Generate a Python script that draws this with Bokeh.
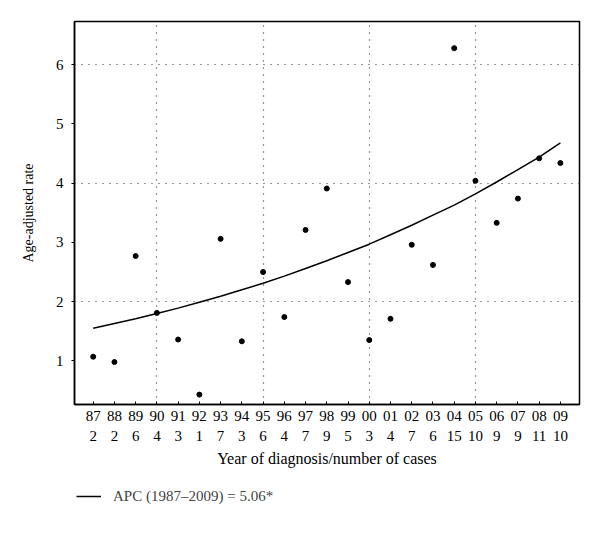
from bokeh.plotting import figure
from bokeh.layouts import column
from bokeh.models import FixedTicker, LinearAxis, Legend, LegendItem, Range1d
from bokeh.embed import file_html
from bokeh.resources import INLINE

years = list(range(1987, 2010))
year_labels = ["87", "88", "89", "90", "91", "92", "93", "94", "95", "96", "97", "98",
               "99", "00", "01", "02", "03", "04", "05", "06", "07", "08", "09"]
cases = ["2", "2", "6", "4", "3", "1", "7", "3", "6", "4", "7", "9",
         "5", "3", "4", "7", "6", "15", "10", "9", "9", "11", "10"]
rates = [1.07, 0.98, 2.77, 1.81, 1.36, 0.43, 3.06, 1.33, 2.50, 1.74, 3.21, 3.91,
         2.33, 1.35, 1.71, 2.96, 2.62, 6.28, 4.04, 3.33, 3.74, 4.42, 4.34]
fitted = [1.55, 1.63, 1.71, 1.80, 1.89, 1.99, 2.09, 2.20, 2.31, 2.43, 2.56, 2.69,
          2.83, 2.97, 3.13, 3.29, 3.46, 3.63, 3.82, 4.02, 4.23, 4.44, 4.68]
y_ticks = [1, 2, 3, 4, 5, 6]
grid_x = [1990, 1995, 2000, 2005]
grid_y = [2, 4, 6]
legend_text = "APC (1987\u20132009) = 5.06*"
x_title = "Year of diagnosis/number of cases"
y_title = "Age-adjusted rate"

FONT = "Liberation Serif"
FS = "15px"

p = figure(width=584, height=475, output_backend="svg", toolbar_location=None,
           x_range=Range1d(1986.12, 2009.9), y_range=Range1d(0.263, 6.73),
           min_border_left=74, min_border_right=5, min_border_top=21,
           min_border_bottom=71)
p.background_fill_color = "white"
p.border_fill_color = "white"
p.outline_line_color = "black"
p.outline_line_width = 1.5

# grids
p.xgrid.ticker = FixedTicker(ticks=grid_x)
p.ygrid.ticker = FixedTicker(ticks=grid_y)
for g in (p.xgrid, p.ygrid):
    g.grid_line_color = "#333333"
    g.grid_line_dash = "1 6"
    g.grid_line_width = 1.2

# x axis 1: years
xa = p.xaxis[0]
xa.ticker = FixedTicker(ticks=years)
xa.major_label_overrides = {y: l for y, l in zip(years, year_labels)}
xa.major_tick_in = 3
xa.major_tick_out = 0
xa.minor_tick_line_color = None
xa.axis_line_width = 1.5
xa.major_label_standoff = 6
xa.major_label_text_font = FONT
xa.major_label_text_font_size = FS
xa.major_label_text_color = "black"

# x axis 2: number of cases
xa2 = LinearAxis(ticker=FixedTicker(ticks=years))
xa2.major_label_overrides = {y: c for y, c in zip(years, cases)}
xa2.axis_line_color = None
xa2.major_tick_line_color = None
xa2.minor_tick_line_color = None
xa2.major_tick_in = 0
xa2.major_tick_out = 0
xa2.major_label_standoff = 7
xa2.major_label_text_font = FONT
xa2.major_label_text_font_size = FS
xa2.major_label_text_color = "black"
xa2.axis_label = x_title
xa2.axis_label_standoff = 6
xa2.axis_label_text_font = FONT
xa2.axis_label_text_font_size = "16px"
xa2.axis_label_text_font_style = "normal"
xa2.axis_label_text_color = "black"
p.add_layout(xa2, "below")

# y axis
ya = p.yaxis[0]
ya.ticker = FixedTicker(ticks=y_ticks)
ya.major_tick_in = 0
ya.major_tick_out = 3
ya.minor_tick_line_color = None
ya.axis_line_width = 1.5
ya.major_label_standoff = 8
ya.major_label_text_font = FONT
ya.major_label_text_font_size = FS
ya.major_label_text_color = "black"
ya.axis_label = y_title
ya.axis_label_standoff = 17
ya.axis_label_text_font = FONT
ya.axis_label_text_font_size = "14px"
ya.axis_label_text_font_style = "normal"
ya.axis_label_text_color = "black"

line = p.line(years, fitted, line_color="black", line_width=1.5)
p.scatter(years, rates, size=5, fill_color="black", line_color="black")

# legend strip below the chart (its line lies outside this strip's view)
p2 = figure(width=584, height=44, output_backend="svg", toolbar_location=None,
            x_range=Range1d(0, 1), y_range=Range1d(0, 1),
            x_axis_type=None, y_axis_type=None,
            min_border_left=0, min_border_right=0, min_border_top=0,
            min_border_bottom=0)
p2.outline_line_color = None
p2.xgrid.visible = False
p2.ygrid.visible = False
p2.background_fill_color = "white"
p2.border_fill_color = "white"
leg_line = p2.line(years, fitted, line_color="black", line_width=1.5)
legend = Legend(items=[LegendItem(label=legend_text, renderers=[leg_line])],
                location=(2, 13), border_line_color=None,
                background_fill_alpha=0, padding=0, margin=0,
                glyph_width=25, label_standoff=12,
                label_text_font=FONT, label_text_font_size=FS)
p2.add_layout(legend, "center")

layout = column(p, p2, spacing=0)
open("out.html", "w").write(file_html(layout, INLINE))
